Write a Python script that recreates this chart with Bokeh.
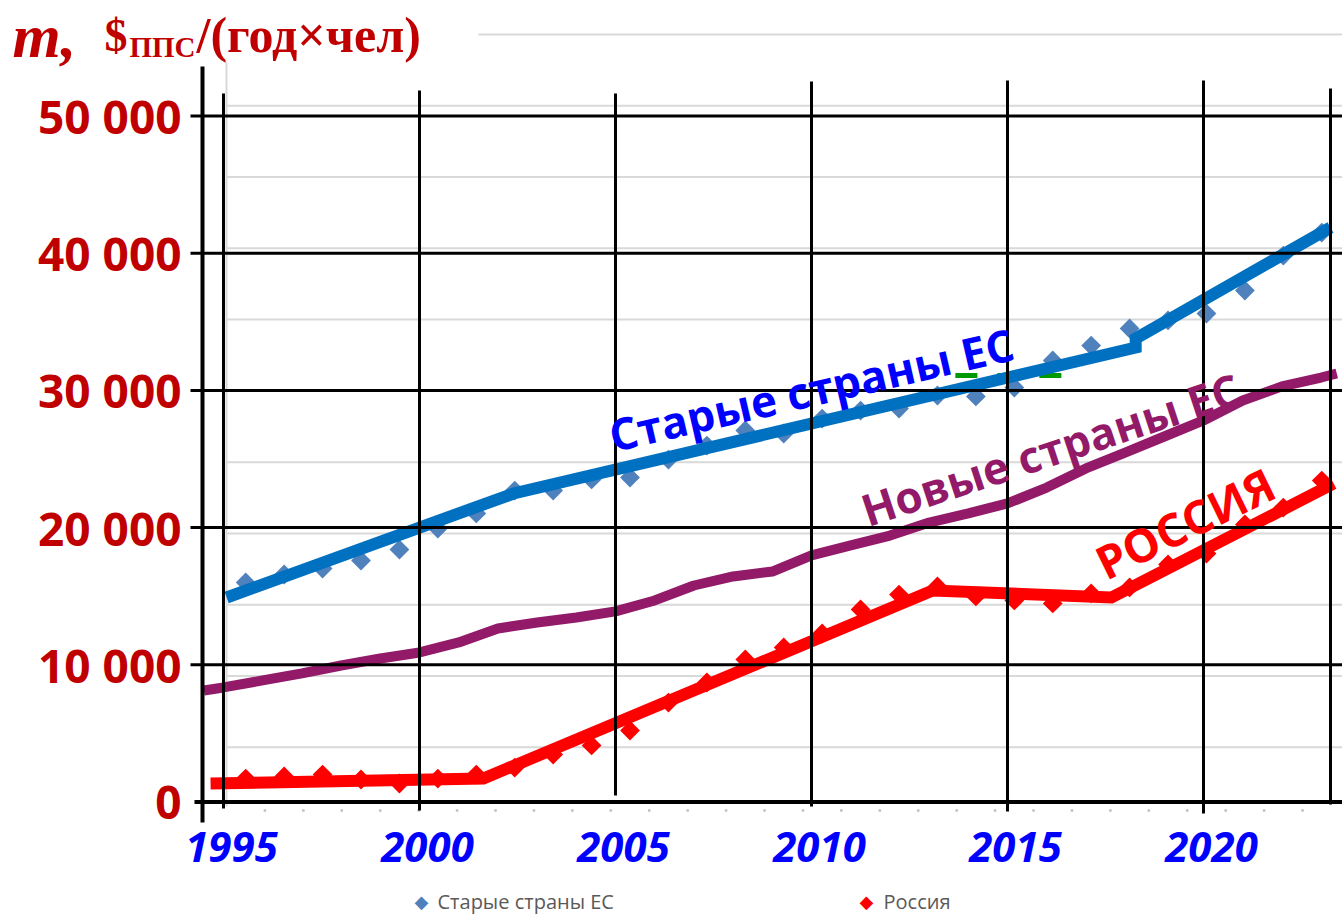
import numpy as np
from bokeh.plotting import figure
from bokeh.models import Range1d, Label
from bokeh.core.properties import value
from bokeh.embed import file_html
from bokeh.resources import INLINE

# ---------------- data ----------------
years = list(range(1995, 2024))
old_eu = [16000, 16580, 17020, 17600, 18400, 19930, 21030, 22700, 22700, 23510,
          23650, 24960, 25980, 27080, 26860, 27950, 28530, 28680, 29630, 29560,
          30210, 32180, 33270, 34510, 35100, 35600, 37280, 39830, 41500]
russia = [1710, 1860, 2000, 1640, 1350, 1710, 2000, 2510, 3460, 4120,
          5210, 7250, 8710, 10390, 11260, 12280, 14030, 15120, 15710, 14980,
          14690, 14470, 15200, 15640, 17310, 18110, 20230, 21460, 23430]
new_eu_x = [1994.5] + list(range(1995, 2024)) + [2023.4]
new_eu_y = [8130, 8350, 8860, 9370, 9950, 10460, 10900, 11630, 12650, 13080,
            13450, 13890, 14690, 15780, 16440, 16800, 17970, 18700, 19420, 20370,
            21030, 21760, 22920, 24310, 25470, 26640, 27810, 29260, 30290, 30940,
            31230]
# hand-drawn trend lines
trend_old_x = [1995.08, 2002.40, 2018.27, 2018.27, 2023.24]
trend_old_y = [14905, 22485, 33127, 33783, 41873]
trend_rus_x = [1994.67, 2001.63, 2013.09, 2017.65, 2023.32]
trend_rus_y = [1348, 1713, 15416, 14905, 23214]
green_dash_x = [2013.67, 2016.40]
green_dash_y = [31090, 31090]

y_ticks = [0, 10000, 20000, 30000, 40000, 50000]
y_labels = ["0", "10 000", "20 000", "30 000", "40 000", "50 000"]
x_ticks = [1995, 2000, 2005, 2010, 2015, 2020]
x_labels = ["1995", "2000", "2005", "2010", "2015", "2020"]

# ---------------- layout ----------------
W, H = 1342, 921


def ov_x(px):
    return 1995 + (px - 223) / 39.2


def ov_y(py):
    return (801.5 - py) / 0.01372


def cat_x(px):
    return 1994.5 + (px - 226) / 38.43


def u_y(py):
    return (818 - py) / 0.014255


p = figure(width=W, height=H, output_backend="svg", toolbar_location=None,
           x_range=Range1d(ov_x(0), ov_x(W)), y_range=Range1d(ov_y(H), ov_y(0)),
           x_axis_location=None, y_axis_location=None,
           min_border_left=0, min_border_right=0, min_border_top=0, min_border_bottom=0)
p.extra_x_ranges = {"cat": Range1d(cat_x(0), cat_x(W))}
p.extra_y_ranges = {"u": Range1d(u_y(H), u_y(0))}
p.outline_line_color = None
p.xgrid.visible = False
p.ygrid.visible = False
p.background_fill_color = "white"
p.border_fill_color = "white"

# underlying light gray grid (background chart)
u_levels = list(range(5000, 55001, 5000))
p.segment(x0=[1994.5] * len(u_levels), x1=[2023.6] * len(u_levels),
          y0=u_levels, y1=u_levels, x_range_name="cat", y_range_name="u",
          line_color="#D9D9D9", line_width=2)
p.segment(x0=[1994.5], x1=[1994.5], y0=[u_y(806)], y1=[55000],
          x_range_name="cat", y_range_name="u", line_color="#D9D9D9", line_width=2)
cat_ticks = [1995.5 + k for k in range(28)]
p.scatter(x=cat_ticks, y=[u_y(810)] * len(cat_ticks), marker="square", size=2.5,
          x_range_name="cat", y_range_name="u", fill_color="#BFBFBF", line_color=None)

# white box behind the title
p.quad(left=[ov_x(0)], right=[ov_x(478)], bottom=[ov_y(62)], top=[ov_y(0)],
       fill_color="white", line_color=None)

# data markers
p.scatter(x=years, y=old_eu, x_range_name="cat", marker="square", angle=np.pi / 4,
          size=14, fill_color="#4F81BD", line_color=None)
p.scatter(x=years, y=russia, x_range_name="cat", marker="square", angle=np.pi / 4,
          size=14, fill_color="#FF0000", line_color=None)

# lines
p.line(new_eu_x, new_eu_y, line_color="#921A69", line_width=10, line_join="round")
p.line(green_dash_x, green_dash_y, line_color="#009A00", line_width=5, line_dash="22 20")
p.line(trend_old_x, trend_old_y, line_color="#0070C0", line_width=12,
       line_join="miter", line_cap="butt")
p.line(trend_rus_x, trend_rus_y, line_color="#FF0000", line_width=12,
       line_join="miter", line_cap="butt")

# black overlay grid
v_x = [1995, 2000, 2005, 2010, 2015, 2020, ov_x(1330)]
v_top = [ov_y(93), ov_y(90), ov_y(93), ov_y(81), ov_y(80), ov_y(80), ov_y(88)]
v_bot = [ov_y(808), ov_y(810), ov_y(795), ov_y(806), ov_y(811), ov_y(813), ov_y(804)]
p.segment(x0=v_x, x1=v_x, y0=v_bot, y1=v_top, line_color="black", line_width=3)
p.segment(x0=[ov_x(202)], x1=[ov_x(202)], y0=[ov_y(822)], y1=[ov_y(66)],
          line_color="black", line_width=4)
h_lv = y_ticks[1:]
p.segment(x0=[ov_x(190)] * len(h_lv), x1=[ov_x(W + 5)] * len(h_lv), y0=h_lv, y1=h_lv,
          line_color="black", line_width=3)
p.segment(x0=[ov_x(194)], x1=[ov_x(W + 5)], y0=[0], y1=[0], line_color="black", line_width=4)

# tick labels
p.text(x=[ov_x(181)] * len(y_ticks), y=y_ticks, text=y_labels,
       text_font=value("Open Sans"), text_font_style="bold", text_font_size="46px",
       text_color="#C00000", text_align="right", text_baseline="middle")
p.text(x=x_ticks, y=[ov_y(846)] * len(x_ticks), text=x_labels, x_offset=8,
       text_font=value("Open Sans"), text_font_style="bold italic", text_font_size="42px",
       text_color="#0000FF", text_align="center", text_baseline="middle")

SHIFT = 12  # labels render this much below their alphabetic anchor


def lab(text, px, py, size, color, font="Open Sans", style="bold", angle=0.0):
    a = np.deg2rad(angle)
    p.add_layout(Label(x=ov_x(px - SHIFT * np.sin(a)), y=ov_y(py - SHIFT * np.cos(a)),
                       text=text, angle=a,
                       text_font=font, text_font_style=style, text_font_size=size,
                       text_color=color, text_baseline="alphabetic"))


# rotated series labels
lab("Старые страны ЕС", 612, 447, "44px", "#0000FF", angle=13)
lab("Новые страны ЕС", 866, 522, "44px", "#921A69", angle=18.3)
lab("РОССИЯ", 1103, 575, "46px", "#FF0000", angle=26)

# title
lab("m,", 12, 47, "62px", "#C00000", "Liberation Serif", "bold italic")
lab("$", 104, 47, "46px", "#C00000", "Liberation Serif", "bold")
lab("ППС", 129, 58, "29px", "#C00000", "Liberation Serif", "bold")
lab("/(год×чел)", 196, 46, "50px", "#C00000", "Liberation Serif", "bold")

# bottom legend (partly visible in the reference)
lab("◆", 414, 913, "18px", "#4F81BD", "DejaVu Sans", "normal")
lab("Старые страны ЕС", 437, 913, "20px", "#595959", style="normal")
lab("◆", 859, 913, "18px", "#FF0000", "DejaVu Sans", "normal")
lab("Россия", 883, 913, "20px", "#595959", style="normal")

open("out.html", "w").write(file_html(p, INLINE))
